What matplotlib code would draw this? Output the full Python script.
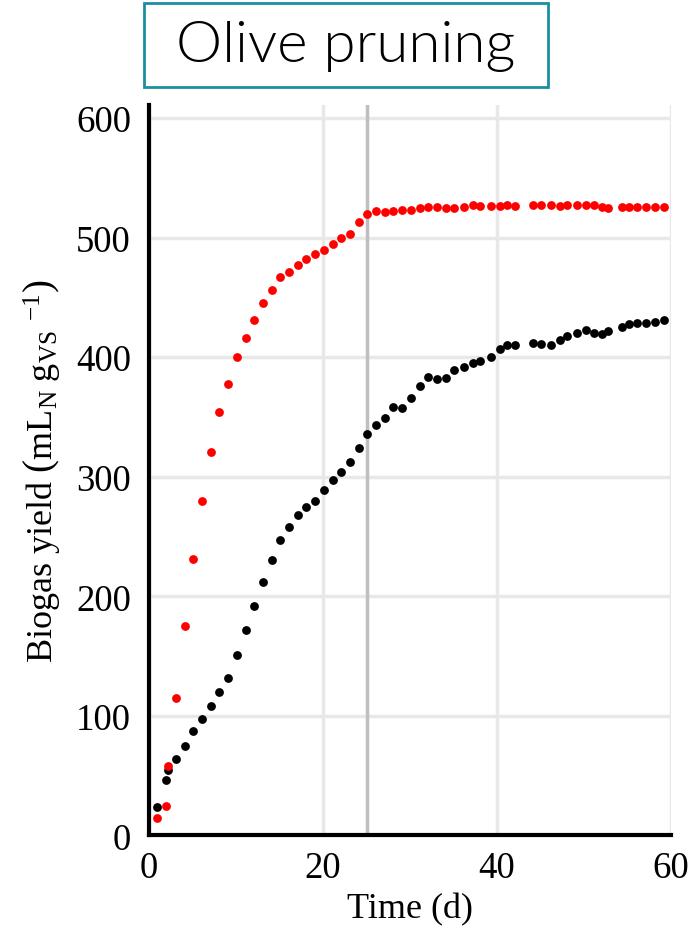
import matplotlib
matplotlib.use("Agg")
from matplotlib import pyplot as plt
from matplotlib.patches import Rectangle

plt.rcParams["font.family"] = ["Liberation Serif", "DejaVu Serif"]
plt.rcParams["mathtext.fontset"] = "custom"
plt.rcParams["mathtext.rm"] = "Liberation Serif"
plt.rcParams["mathtext.it"] = "Liberation Serif:italic"

TITLE = "Olive pruning"
XLABEL = "Time (d)"
YLABEL = r"Biogas yield $\left(\mathrm{mL_N\ g_{VS}}\ ^{-1}\right)$"

# Sampling times (d), shared by both series
time_d = [0.9, 1.9, 2.15, 3.1, 4.1, 5.1, 6.1, 7.1, 8.1, 9.1,
          10.1, 11.1, 12.1, 13.1, 14.1, 15.1, 16.1, 17.1, 18.1, 19.1,
          20.1, 21.1, 22.1, 23.1, 24.1, 25.1, 26.1, 27.1, 28.1, 29.1,
          30.1, 31.1, 32.1, 33.1, 34.1, 35.1, 36.2, 37.2, 38.1, 39.3,
          40.3, 41.1, 42.1, 44.1, 45.1, 46.2, 47.2, 48.1, 49.2, 50.2,
          51.2, 52.1, 52.8, 54.4, 55.2, 56.1, 57.1, 58.2, 59.2]

# Red series (mL_N/g_VS)
yield_red = [15, 25, 58, 115, 175, 231, 280, 321, 354, 378,
             400, 416, 431, 445, 456, 467, 471, 477, 482, 486,
             490, 495, 500, 503, 513, 520, 522.5, 521.5, 522, 523.5,
             523.5, 525, 526, 526, 524.5, 525, 525.5, 527, 526.5, 526.5,
             526.5, 527, 526.5, 527, 527, 527, 526.5, 527.5, 527, 527.5,
             527.5, 526, 525, 525.5, 525.5, 525.5, 525.5, 526, 526]

# Black series (mL_N/g_VS)
yield_black = [24, 46, 54.5, 64, 75, 87, 97, 108, 120, 132,
               151, 172, 192, 212, 230.5, 247, 258, 268, 275, 280,
               289, 297, 304, 312, 324, 336, 343, 349, 358, 357.5,
               365.5, 376, 383.5, 381.5, 383, 389.5, 392, 395.5, 397, 400,
               407, 410.5, 410.5, 412, 411, 410.5, 414, 418, 420.5, 422.5,
               420, 419.5, 421.5, 425, 428, 429, 428.5, 429.5, 431]

MARKER_SIZE = 40
GRID_COLOR = "#e8e8e8"

fig = plt.figure(figsize=(6.92, 9.29), dpi=100)
ax = fig.add_axes([0.2153, 0.0996, 0.7544, 0.7864])

ax.scatter(time_d, yield_black, s=MARKER_SIZE, color="black", linewidths=0, zorder=4)
ax.scatter(time_d, yield_red, s=MARKER_SIZE, color="#ff0000", linewidths=0, zorder=4)

# Vertical marker at day 25
ax.axvline(25, color="#bfbfbf", linewidth=2.5, zorder=3)

ax.set_xlim(0, 60)
ax.set_ylim(0, 611)
ax.set_xticks([0, 20, 40, 60])
ax.set_yticks(range(0, 601, 100))
ax.grid(True, color=GRID_COLOR, linewidth=2.5, zorder=1)
ax.set_axisbelow(True)

for side in ("top", "right"):
    ax.spines[side].set_visible(False)
for side in ("left", "bottom"):
    ax.spines[side].set_linewidth(3)
    ax.spines[side].set_zorder(5)

ax.tick_params(axis="both", length=0, labelsize=26.5)
ax.tick_params(axis="y", pad=13)
ax.tick_params(axis="x", pad=11)

ax.set_xlabel(XLABEL, fontsize=26, labelpad=5)
ax.set_ylabel(YLABEL, fontsize=26, labelpad=10)

# Boxed title
fig.patches.append(Rectangle((144 / 692, 1 - 88 / 929), (548 - 144) / 692, (88 - 4) / 929,
                             transform=fig.transFigure, facecolor="white",
                             edgecolor="#1b8fa0", linewidth=2))
fig.text(346 / 692, 1 - 47 / 929, TITLE, ha="center", va="center",
         fontsize=42, fontweight=300, family=["Lato", "DejaVu Sans"])

fig.savefig("out.png", dpi=100)
